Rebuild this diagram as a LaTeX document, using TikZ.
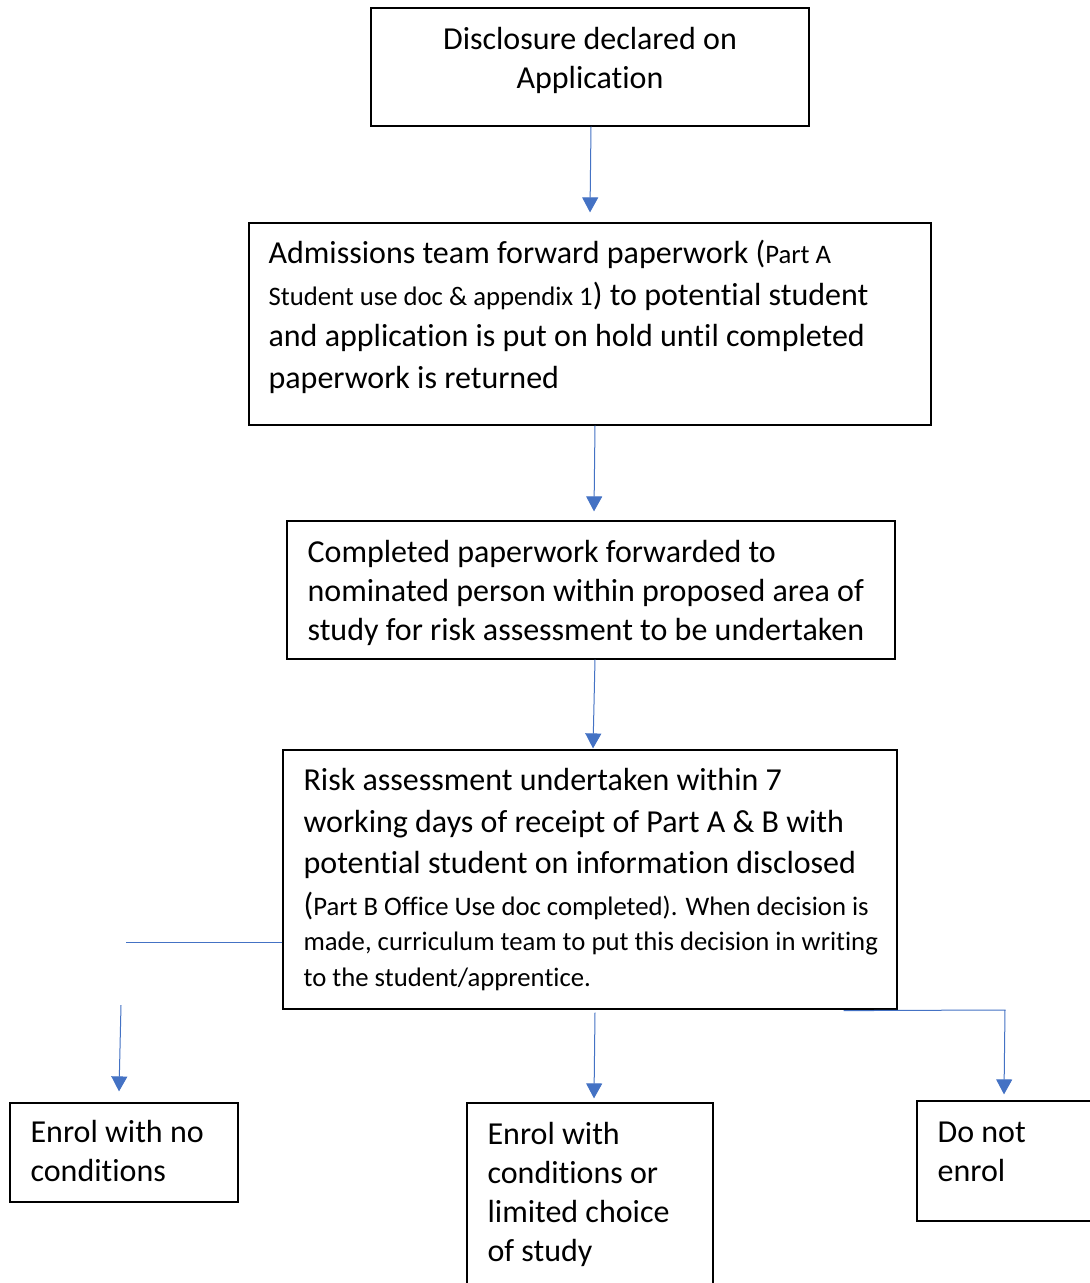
\documentclass[tikz,border=0pt]{standalone}
\usepackage{fontspec}
\setmainfont{Carlito}[Ligatures=NoCommon]
\usetikzlibrary{arrows.meta,calc}
\definecolor{arrowblue}{HTML}{4472C4}
\newcommand{\smalltxt}{\fontsize{26.7}{36}\selectfont}
\tikzset{
  box/.style={draw=black, line width=1.2pt, inner sep=0pt, fill=none},
  txt/.style={inner sep=0pt, align=left, anchor=base west, font=\fontsize{32}{39}\selectfont},
  txtwide/.style={txt, font=\fontsize{32}{41.5}\selectfont},
  conn/.style={draw=arrowblue, line width=1pt},
  arr/.style={-{Triangle[width=16pt,length=15pt]}}
}
\begin{document}
\begin{tikzpicture}[x=1pt,y=-1pt]
\useasboundingbox (0,0) rectangle (1090,1283);
\clip (0,0) rectangle (1090,1283);
\fill[white] (0,0) rectangle (1090,1283);

% boxes
\node[box, minimum width=438pt, minimum height=118pt] (b1) at (590,67) {};
\node[box, minimum width=682pt, minimum height=202pt] (b2) at (590,324) {};
\node[box, minimum width=608pt, minimum height=138pt] (b3) at (591,590) {};
\node[box, minimum width=614pt, minimum height=259pt] (b4) at (590,879.5) {};
\node[box, minimum width=228pt, minimum height=99pt] (b5) at (124,1152.5) {};
\node[box, minimum width=246pt, minimum height=197pt] (b6) at (590,1201.5) {};
\node[box, minimum width=176pt, minimum height=120pt] (b7) at (1005,1161) {};

% texts (anchored at the baseline of their last line)
\node[txt, align=center, anchor=base] (t1) at ($(b1.north)+(0,81)$)
  {Disclosure declared on\\Application};
\node[txtwide] (t2) at ($(b2.north west)+(20,166)$)
  {Admissions team forward paperwork ({\smalltxt Part A}\\
   {\smalltxt Student use doc \& appendix 1}) to potential student\\
   and application is put on hold until completed\\
   paperwork is returned};
\node[txt] (t3) at ($(b3.north west)+(21,120)$)
  {Completed paperwork forwarded to\\
   nominated person within proposed area of\\
   study for risk assessment to be undertaken};
\node[txtwide] (t4) at ($(b4.north west)+(21,237)$)
  {Risk assessment undertaken within 7\\
   working days of receipt of Part A \& B with\\
   potential student on information disclosed\\
   ({\smalltxt Part B Office Use doc completed). When decision is}\\[-6pt]
   {\smalltxt made, curriculum team to put this decision in writing}\\[-6pt]
   {\smalltxt to the student/apprentice.}};
\node[txt] (t5) at ($(b5.north west)+(21,79)$)
  {Enrol with no\\conditions};
\node[txt] (t6) at ($(b6.north west)+(21,159)$)
  {Enrol with\\conditions or\\limited choice\\of study};
\node[txt] (t7) at ($(b7.north west)+(21,81)$)
  {Do not\\enrol};

% connectors
\draw[conn, arr] ([xshift=1pt]b1.south) -- ([yshift=10pt]b2.north);
\draw[conn, arr] ([xshift=5pt]b2.south) -- ([xshift=3pt,yshift=9pt]b3.north);
\draw[conn, arr] ([xshift=4pt]b3.south) -- ([xshift=3pt,yshift=1pt]b4.north);
\draw[conn, arr] ([xshift=5pt,yshift=-3pt]b4.south) -- ([xshift=4pt,yshift=4pt]b6.north);

\coordinate (lend) at (126,942);
\draw[conn] ([yshift=-62.5pt]b4.west) -- (lend);
\coordinate (lstart) at (121,1005);
\draw[conn, arr] (lstart) -- ([xshift=-5pt,yshift=11pt]b5.north);

\coordinate (rcorner) at (1005,1010);
\draw[conn, arr] ([xshift=-54pt,yshift=-1pt]b4.south east) -- (rcorner) -- ([xshift=-1pt,yshift=6pt]b7.north);
\end{tikzpicture}
\end{document}
